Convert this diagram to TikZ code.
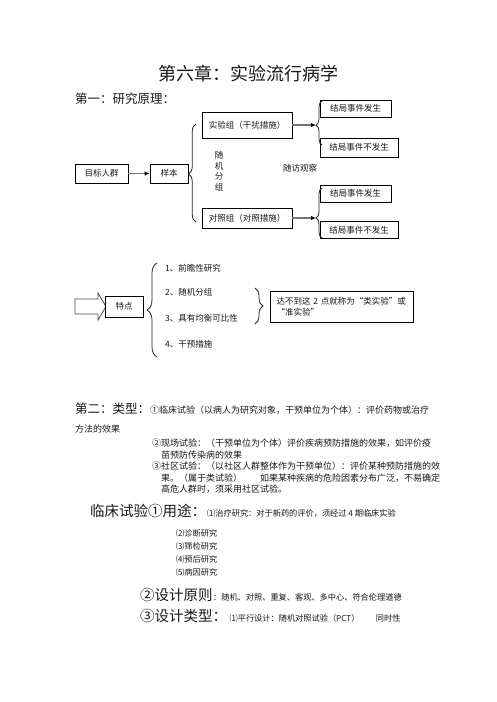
\documentclass[tikz,border=0pt]{standalone}
\usepackage{fontspec}
\setmainfont{Noto Sans CJK SC}
\usetikzlibrary{decorations.pathreplacing,arrows.meta}
\begin{document}
\begin{tikzpicture}[x=1pt,y=-1pt,
  every node/.style={inner sep=0pt, text=black!90},
  box/.style={draw=black, line width=0.8pt, fill=white, font=\fontsize{8.5}{10}\selectfont},
  lbl/.style={anchor=west, font=\fontsize{8.5}{10}\selectfont},
  small/.style={anchor=base west, font=\fontsize{9}{10}\selectfont},
  smaller/.style={anchor=base west, font=\fontsize{8.2}{10}\selectfont},
  head/.style={anchor=base west, font=\fontsize{12.5}{14}\selectfont},
  big/.style={anchor=base west, font=\fontsize{14.5}{16}\selectfont},
  flow/.style={draw=black!55, line width=1.6pt, -{Latex[black,length=5pt,width=4.5pt]}},
  brc/.style={decorate, decoration={brace, amplitude=#1}, line width=0.8pt, draw=black!85},
  brcasp/.style 2 args={decorate, decoration={brace, amplitude=#1, aspect=#2}, line width=0.8pt, draw=black!85},
]
\useasboundingbox[fill=white] (0,0) rectangle (496,702);

% title
\node[anchor=base, font=\fontsize{18}{20}\selectfont] (title) at (248,80) {第六章：实验流行病学};
\node[head] (h1) at (75,103) {第一：研究原理：};

% flowchart 1
\node[box, minimum width=53, minimum height=19] (pop) at (101.5,173.5) {目标人群};
\node[box, minimum width=38, minimum height=19] (samp) at (169,173.5) {样本};
\node[box, minimum width=90, minimum height=26] (exp) at (247,125) {实验组（干扰措施）};
\node[box, minimum width=90, minimum height=20] (ctl) at (247,218) {对照组（对照措施）};
\node[box, minimum width=71, minimum height=17] (r1) at (355.5,108.5) {结局事件发生};
\node[box, minimum width=78, minimum height=19] (r2) at (359,147.5) {结局事件不发生};
\node[box, minimum width=71, minimum height=17] (r3) at (355.5,193.5) {结局事件发生};
\node[box, minimum width=78, minimum height=17] (r4) at (359,230) {结局事件不发生};
\node[align=center, font=\fontsize{8.5}{10.5}\selectfont] (rand) at (219,171) {随\\机\\分\\组};
\node[font=\fontsize{8.5}{10}\selectfont] (follow) at (300,168) {随访观察};

\coordinate (t1) at (316,125);
\coordinate (t2) at (316,218);
\draw[flow] (pop) -- (samp);
\draw[flow] (exp.east) -- (t1);
\draw[flow] (ctl.east) -- (t2);
\draw[brcasp={7.5pt}{0.49}] (196,222) -- (196,124);
\draw[brcasp={6pt}{0.45}] (322,145) -- (322,101);
\draw[brcasp={6pt}{0.4}] (322,238) -- (322,188);

% flowchart 2
\draw[line width=0.8pt, draw=black!70, fill=white] (75,299) -- (98,299) -- (98,293) -- (106,306.5) -- (98,320) -- (98,314) -- (75,314) -- cycle;
\node[box, minimum width=38, minimum height=21] (feat) at (124,306.5) {特点};
\draw[brcasp={10pt}{0.5}] (157,357) -- (157,263);
\node[lbl] (i1) at (165,268) {1、前瞻性研究};
\node[lbl] (i2) at (165,292.5) {2、随机分组};
\node[lbl] (i3) at (165,318.5) {3、具有均衡可比性};
\node[lbl] (i4) at (165,344.5) {4、干预措施};
\draw[brc={8pt}] (255,288) -- (255,324);
\node[box, minimum width=143, minimum height=31, text width=130, align=left, font=\fontsize{8.5}{11}\selectfont] (note) at (341.5,306.5) {达不到这 2 点就称为“类实验”或\\“准实验”};

% section 2
\node[head] (h2) at (75,413) {第二：类型：};
\node[small] (l1) at (150,413) {①临床试验（以病人为研究对象，干预单位为个体）：评价药物或治疗};
\node[small] (l2) at (75,432.5) {方法的效果};
\node[small] (l3) at (152,446.5) {②现场试验：（干预单位为个体）评价疾病预防措施的效果，如评价疫};
\node[small] (l4) at (161,458) {苗预防传染病的效果};
\node[small] (l5) at (152,469.5) {③社区试验：（以社区人群整体作为干预单位）：评价某种预防措施的效};
\node[small] (l6) at (161,481) {果。（属于类试验）\quad\quad 如果某种疾病的危险因素分布广泛，不易确定};
\node[small] (l7) at (161,492.5) {高危人群时，须采用社区试验。};

\node[big] (h3) at (90,516.5) {临床试验①用途：};
\node[smaller] (u1) at (207,516.5) {⑴治疗研究：对于新药的评价，须经过 4 期临床实验};
\node[smaller] (u2) at (176,536) {⑵诊断研究};
\node[smaller] (u3) at (176,549) {⑶筛检研究};
\node[smaller] (u4) at (176,562) {⑷预后研究};
\node[smaller] (u5) at (176,575) {⑸病因研究};

\node[big] (h4) at (140,600.5) {②设计原则};
\node[smaller] (p1) at (h4.base east) {：随机、对照、重复、客观、多中心、符合伦理道德};
\node[big] (h5) at (140,621.5) {③设计类型：};
\node[smaller] (p2) at ([xshift=2pt]h5.base east) {⑴平行设计：随机对照试验（PCT）\quad\quad 同时性};
\end{tikzpicture}
\end{document}
